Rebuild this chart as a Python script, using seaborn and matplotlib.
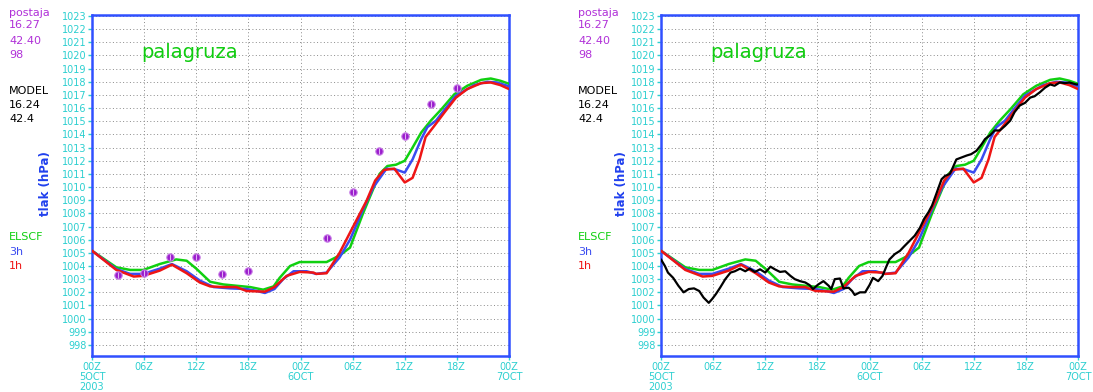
import numpy as np
import pandas as pd
import seaborn as sns
import matplotlib.pyplot as plt

# ---- station / model info ----
station_name = "palagruza"
station_info = ["postaja", "16.27", "42.40", "98"]
model_info = ["MODEL", "16.24", "42.4"]
series_names = ["ELSCF", "3h", "1h"]

# ---- x axis: hours since 00Z 5 OCT 2003 ----
xtick_hours = [0, 6, 12, 18, 24, 30, 36, 42, 48]
xtick_labels = ["00Z\n5OCT\n2003", "06Z", "12Z", "18Z", "00Z\n6OCT",
                "06Z", "12Z", "18Z", "00Z\n7OCT"]
ytick_values = list(range(998, 1024))

# ---- model forecasts (hPa) ----
elscf_h = [0, 2.8, 4.4, 5.9, 7.8, 9.7, 10.9, 12, 13.6, 15.1, 16.6, 18.2, 19.7,
           20.9, 21.6, 22.8, 23.9, 25.5, 27, 28.5, 29.7, 31.2, 32.4, 33.1, 34.0,
           35.0, 36.0, 36.9, 37.9, 39.0, 40.2, 41.7, 43.2, 44.8, 45.9, 47.0, 48]
elscf_p = [1005.16, 1003.9, 1003.7, 1003.7, 1004.15, 1004.5, 1004.4, 1003.8,
           1002.8, 1002.6, 1002.5, 1002.4, 1002.2, 1002.45, 1003.1, 1004.0,
           1004.3, 1004.3, 1004.3, 1004.8, 1005.4, 1008.0, 1009.9, 1011.0,
           1011.6, 1011.7, 1012.0, 1013.0, 1014.15, 1015.05, 1015.9, 1017.05,
           1017.7, 1018.15, 1018.25, 1018.08, 1017.85]

h3_h = [0, 2.8, 4.4, 5.9, 7.8, 9.2, 10.9, 12.4, 14.0, 15.9, 17.8, 19.0, 19.9,
        21.0, 22.0, 23.2, 24.7, 25.8, 27.0, 28.5, 29.7, 31.2, 32.4, 33.9, 34.9,
        36.0, 36.9, 37.9, 38.6, 39.6, 40.6, 41.9, 44.0, 45.5, 46.6, 47.8, 48]
h3_p = [1005.16, 1003.77, 1003.4, 1003.4, 1003.8, 1004.15, 1003.6, 1002.9,
        1002.4, 1002.3, 1002.25, 1002.1, 1001.95, 1002.25, 1003.0, 1003.6,
        1003.6, 1003.4, 1003.5, 1004.65, 1006.0, 1008.3, 1010.0, 1011.4,
        1011.35, 1011.1, 1012.1, 1013.65, 1014.55, 1015.05, 1015.9, 1016.95,
        1017.75, 1018.0, 1017.95, 1017.7, 1017.65]

h1_h = [0, 2.8, 4.8, 5.9, 7.8, 9.2, 10.9, 12.4, 13.6, 15.1, 16.6, 17.8, 19.9,
        21.0, 22.4, 23.9, 25.5, 25.8, 27.0, 28.5, 30.1, 31.6, 32.6, 33.6, 34.8,
        36.0, 36.9, 37.7, 38.4, 39.4, 40.6, 41.9, 43.2, 44.8, 45.9, 47.0, 48]
h1_p = [1005.16, 1003.7, 1003.2, 1003.25, 1003.65, 1004.1, 1003.45, 1002.75,
        1002.45, 1002.4, 1002.4, 1002.1, 1002.05, 1002.4, 1003.25, 1003.55,
        1003.5, 1003.4, 1003.45, 1005.0, 1007.05, 1008.95, 1010.5, 1011.3,
        1011.4, 1010.35, 1010.7, 1012.1, 1013.8, 1014.65, 1015.7, 1016.8,
        1017.45, 1017.9, 1017.95, 1017.75, 1017.45]

# ---- station observations, 3-hourly (hPa) ----
obs_h = [3, 6, 9, 12, 15, 18, 27, 30, 33, 36, 39, 42]
obs_p = [1003.3, 1003.5, 1004.7, 1004.7, 1003.4, 1003.6, 1006.1, 1009.6,
         1012.75, 1013.85, 1016.3, 1017.5]

# ---- station barograph record (hPa) ----
baro_h = [0.0, 0.45, 0.8, 1.4, 2.0, 2.6, 3.2, 3.8, 4.4, 4.9, 5.5, 5.9, 6.3,
          6.8, 7.4, 8.0, 8.5, 9.1, 9.7, 10.2, 10.8, 11.4, 12.0, 12.6, 13.1,
          13.7, 14.3, 14.9, 15.4, 16.0, 16.6, 17.1, 17.5, 18.1, 18.7, 19.3,
          19.6, 20.0, 20.6, 21.0, 21.6, 22.0, 22.3, 22.9, 23.5, 24.0, 24.4,
          25.0, 25.5, 25.9, 26.3, 26.9, 27.5, 28.0, 28.6, 29.2, 29.8, 30.3,
          30.8, 31.2, 31.7, 32.3, 32.7, 33.25, 33.6, 34.0, 34.6, 35.2, 35.7,
          36.3, 36.9, 37.3, 37.9, 38.4, 39.0, 39.6, 40.2, 40.7, 41.3, 41.9,
          42.5, 43.0, 43.6, 44.2, 44.8, 45.3, 45.9, 46.5, 47.0, 47.8, 48.0]
baro_p = [1004.5, 1004.0, 1003.5, 1003.1, 1002.5, 1002.0, 1002.25, 1002.3,
          1002.1, 1001.6, 1001.2, 1001.5, 1001.85, 1002.35, 1003.0, 1003.5,
          1003.6, 1003.8, 1003.6, 1003.8, 1003.55, 1003.75, 1003.5, 1003.95,
          1003.75, 1003.55, 1003.6, 1003.25, 1003.0, 1002.85, 1002.75, 1002.55,
          1002.25, 1002.6, 1002.85, 1002.5, 1002.25, 1003.0, 1003.05, 1002.3,
          1002.35, 1002.1, 1001.8, 1002.0, 1002.0, 1002.55, 1003.1, 1002.85,
          1003.25, 1003.9, 1004.5, 1004.9, 1005.15, 1005.5, 1005.9, 1006.3,
          1006.9, 1007.6, 1008.1, 1008.6, 1009.5, 1010.6, 1010.85, 1011.0,
          1011.5, 1012.1, 1012.25, 1012.4, 1012.5, 1012.75, 1013.25, 1013.65,
          1013.95, 1014.3, 1014.3, 1014.65, 1015.05, 1015.7, 1016.2, 1016.4,
          1016.8, 1016.9, 1017.2, 1017.55, 1017.8, 1017.7, 1017.95, 1017.9,
          1017.95, 1017.8, 1017.8]

# ---- styling ----
C_TICK = "#2ccfd0"
C_FRAME = "#3050ff"
C_GREEN = "#10d010"
C_BLUE = "#3a4cf0"
C_RED = "#ee1515"
C_PURPLE = "#b030d8"
C_TITLE = "#10cc10"

sns.set_style("white")
plt.rcParams["font.family"] = ["DejaVu Sans"]

W, H = 1093, 392
fig = plt.figure(figsize=(W / 100, H / 100), dpi=100)


def fx(px):
    return px / W


def fy(py):
    return 1 - py / H


def draw_panel(left_px, text_x, ylabel_x, show_obs, show_baro):
    ax = fig.add_axes([fx(left_px), fy(356), fx(417), (356 - 14.7) / H])
    ax.set_xlim(0, 48)
    ax.set_ylim(997.16, 1023.1)

    model = [
        (elscf_h, elscf_p, C_GREEN),
        (h3_h, h3_p, C_BLUE),
        (h1_h, h1_p, C_RED),
    ]
    for hh, pp, col in model:
        df = pd.DataFrame({"h": hh, "p": pp})
        sns.lineplot(data=df, x="h", y="p", ax=ax, color=col, lw=1.8,
                     sort=False, estimator=None, zorder=3)

    if show_obs:
        dfo = pd.DataFrame({"h": obs_h, "p": obs_p})
        sns.scatterplot(data=dfo, x="h", y="p", ax=ax, color="#9a1ccc",
                        edgecolor="#c77ae6", linewidth=0.8, s=28, zorder=5)
        sns.scatterplot(data=dfo, x="h", y="p", ax=ax, color="#e0b0f4",
                        marker="|", s=16, linewidth=0.8, zorder=6)
    if show_baro:
        dfb = pd.DataFrame({"h": baro_h, "p": baro_p})
        sns.lineplot(data=dfb, x="h", y="p", ax=ax, color="black", lw=1.6,
                     sort=False, estimator=None, zorder=6)

    ax.set_xlabel("")
    ax.set_ylabel("")
    ax.set_xticks(xtick_hours)
    ax.set_xticklabels(xtick_labels)
    ax.set_yticks(ytick_values)
    ax.set_yticklabels([str(v) for v in ytick_values])
    ax.tick_params(axis="both", colors=C_TICK, labelcolor=C_TICK,
                   labelsize=7, length=3, width=1, pad=1, direction="out",
                   left=True, bottom=True)
    for lbl in ax.get_xticklabels():
        lbl.set_linespacing(1.0)
    ax.grid(True, color="#8a8a8a", linestyle=(0, (1, 2.5)), lw=0.7)
    for sp in ax.spines.values():
        sp.set_color(C_FRAME)
        sp.set_linewidth(1.8)
        sp.set_visible(True)

    ax.text(5.7, 1020.2, station_name, color=C_TITLE, fontsize=14,
            va="center", ha="left", zorder=7)

    # info column on the left of the plot
    for txt, py in zip(station_info, [13, 25.5, 40.5, 55.5]):
        fig.text(fx(text_x), fy(py), txt, color=C_PURPLE, fontsize=8,
                 va="center", ha="left")
    for txt, py in zip(model_info, [90.5, 105.5, 119.5]):
        fig.text(fx(text_x), fy(py), txt, color="black", fontsize=8,
                 va="center", ha="left")
    for txt, py, col in zip(series_names, [237, 252, 266],
                            [C_GREEN, C_BLUE, C_RED]):
        fig.text(fx(text_x), fy(py), txt, color=col, fontsize=8,
                 va="center", ha="left")
    fig.text(fx(ylabel_x), fy(184), "tlak (hPa)", color="#2040ee",
             fontsize=8.5, fontweight="bold", rotation=90,
             va="center", ha="center")
    return ax


draw_panel(92, 9, 45, show_obs=True, show_baro=False)
draw_panel(661, 578, 621, show_obs=False, show_baro=True)

fig.savefig("out.png", dpi=100, facecolor="white")
